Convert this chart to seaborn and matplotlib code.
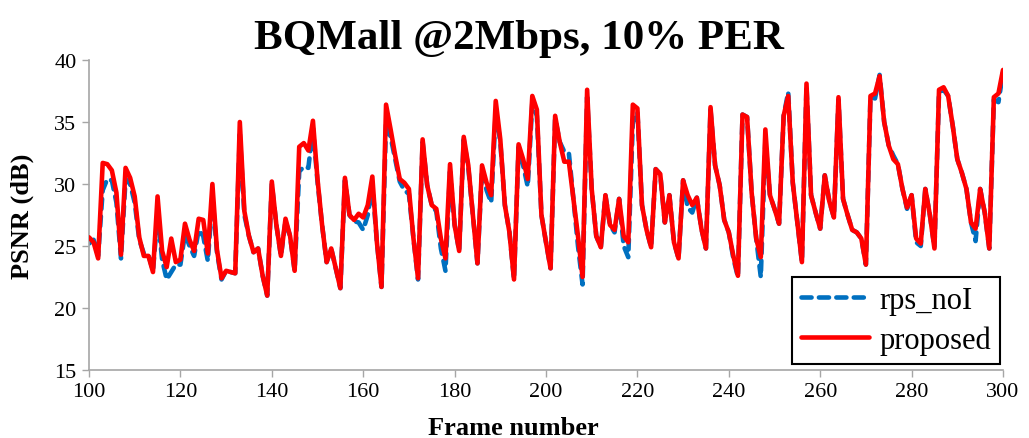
import matplotlib
matplotlib.use("Agg")
import matplotlib.pyplot as plt
from matplotlib.lines import Line2D
import seaborn as sns
import pandas as pd

frames = list(range(100, 301))

proposed = [
    25.7, 25.3, 24.0, 31.7, 31.6, 31.1, 29.3, 24.3, 31.3, 30.5,   # 100-109
    29.0, 25.7, 24.2, 24.2, 22.9, 29.0, 24.6, 23.3, 25.6, 23.7,   # 110-119
    23.9, 26.8, 25.5, 24.6, 27.2, 27.1, 24.4, 30.0, 24.7, 22.4,   # 120-129
    23.0, 22.9, 22.8, 35.0, 27.8, 25.8, 24.5, 24.8, 22.6, 21.0,   # 130-139
    30.2, 26.7, 24.2, 27.2, 25.8, 23.0, 33.0, 33.3, 32.7, 35.1,   # 140-149
    30.4, 26.7, 23.7, 24.8, 23.2, 21.6, 30.5, 27.5, 27.1, 27.6,   # 150-159
    27.3, 28.3, 30.6, 25.3, 21.7, 36.4, 34.4, 32.3, 30.4, 30.1,   # 160-169
    29.6, 25.6, 22.4, 33.6, 29.9, 28.3, 28.0, 25.6, 24.0, 31.6,   # 170-179
    26.7, 24.6, 33.8, 31.5, 27.5, 23.6, 31.5, 30.1, 29.1, 36.7,   # 180-189
    33.6, 28.3, 26.1, 22.3, 33.2, 32.0, 30.4, 37.1, 36.0, 27.5,   # 190-199
    25.3, 23.2, 35.5, 33.4, 31.8, 31.8, 28.8, 25.8, 22.5, 37.6,   # 200-209
    29.6, 25.8, 24.9, 29.1, 26.7, 26.3, 28.8, 25.8, 25.3, 36.4,   # 210-219
    36.1, 28.3, 26.3, 24.9, 31.2, 30.8, 26.9, 29.1, 25.3, 24.0,   # 220-229
    30.3, 29.1, 28.3, 28.9, 26.4, 24.8, 36.2, 31.5, 29.9, 27.1,   # 230-239
    26.1, 24.2, 22.6, 35.6, 35.4, 29.3, 25.6, 24.1, 34.4, 29.1,   # 240-249
    28.0, 26.8, 35.5, 37.1, 30.1, 26.9, 23.7, 38.1, 29.1, 27.7,   # 250-259
    26.4, 30.7, 28.6, 27.3, 37.0, 28.8, 27.5, 26.3, 26.1, 25.6,   # 260-269
    23.5, 37.1, 37.3, 38.7, 35.0, 33.1, 32.0, 31.6, 29.6, 28.1,   # 270-279
    29.1, 25.6, 25.2, 29.6, 27.5, 24.8, 37.6, 37.8, 37.1, 34.7,   # 280-289
    32.0, 30.9, 29.6, 26.9, 26.4, 29.6, 27.7, 24.8, 37.0, 37.3,   # 290-299
    39.2,                                                         # 300
]

rps_noI = [
    25.2, 25.5, 24.2, 29.5, 30.4, 30.3, 28.5, 24.0, 30.4, 30.0,   # 100-109
    28.5, 25.5, 24.4, 24.3, 23.0, 27.5, 23.9, 22.3, 22.9, 23.5,   # 110-119
    23.5, 26.0, 25.0, 24.2, 26.3, 25.8, 23.8, 29.0, 24.5, 22.3,   # 120-129
    23.0, 22.9, 22.8, 34.0, 27.5, 25.8, 24.5, 24.8, 22.6, 21.0,   # 130-139
    30.0, 26.7, 24.2, 27.0, 25.8, 23.0, 31.0, 31.4, 31.3, 34.5,   # 140-149
    30.2, 26.7, 23.7, 24.8, 23.2, 21.6, 30.3, 27.5, 27.0, 26.9,   # 150-159
    26.3, 27.5, 30.0, 25.3, 21.7, 35.0, 33.8, 32.0, 30.2, 29.5,   # 160-169
    29.2, 25.6, 22.3, 33.4, 29.9, 28.3, 27.8, 24.8, 23.0, 31.0,   # 170-179
    26.7, 24.6, 33.6, 31.3, 27.5, 23.6, 31.2, 29.5, 28.5, 35.8,   # 180-189
    33.4, 28.3, 26.1, 22.3, 33.0, 31.5, 29.8, 36.5, 35.5, 27.5,   # 190-199
    25.3, 23.2, 35.3, 33.4, 32.6, 32.5, 28.8, 25.0, 21.9, 37.0,   # 200-209
    29.6, 25.8, 24.9, 29.1, 26.7, 26.1, 28.8, 25.0, 24.1, 35.0,   # 210-219
    35.8, 28.3, 26.3, 24.9, 31.2, 30.8, 26.9, 29.1, 25.3, 24.0,   # 220-229
    30.3, 28.1, 27.7, 28.9, 26.4, 24.8, 36.0, 31.5, 29.9, 27.1,   # 230-239
    26.1, 24.0, 22.5, 35.6, 35.4, 29.3, 25.6, 22.5, 33.5, 29.1,   # 240-249
    28.0, 26.8, 35.5, 37.4, 30.1, 26.9, 23.7, 37.9, 29.1, 27.7,   # 250-259
    26.4, 30.7, 28.6, 27.3, 36.8, 28.8, 27.5, 26.3, 26.1, 25.6,   # 260-269
    23.5, 37.0, 36.9, 38.8, 35.0, 33.1, 32.3, 31.6, 29.6, 28.0,   # 270-279
    29.1, 25.3, 25.0, 29.6, 27.5, 24.9, 37.4, 37.6, 37.1, 34.7,   # 280-289
    32.0, 30.9, 29.6, 26.9, 25.4, 29.6, 27.7, 24.8, 36.8, 36.6,   # 290-299
    39.0,                                                         # 300
]

series_names = ["rps_noI", "proposed"]
series_colors = {"rps_noI": "#0070C0", "proposed": "#FF0000"}
x_ticks = list(range(100, 301, 20))
y_ticks = list(range(15, 41, 5))

df = pd.DataFrame({
    "frame": frames * 2,
    "psnr": rps_noI + proposed,
    "series": ["rps_noI"] * len(frames) + ["proposed"] * len(frames),
})

sns.set_theme(style="white")
plt.rcParams["font.family"] = ["Liberation Serif", "DejaVu Serif"]
plt.rcParams["text.color"] = "black"

W, H = 1029, 439
fig = plt.figure(figsize=(W / 100, H / 100), dpi=100)
ax = fig.add_axes([89 / W, 68 / H, 914 / W, 310 / H])

sns.lineplot(data=df, x="frame", y="psnr", hue="series", hue_order=series_names,
             palette=series_colors, ax=ax, legend=False, estimator=None, sort=False)

lines = ax.get_lines()
lines[0].set_linewidth(3.3)
lines[0].set_dashes((2.2, 1.6))
lines[0].set_dash_capstyle("round")
lines[0].set_zorder(2)
lines[1].set_linewidth(3.3)
lines[1].set_solid_joinstyle("round")
lines[1].set_zorder(3)

ax.set_xlim(100, 300)
ax.set_ylim(15, 40)
ax.set_xticks(x_ticks)
ax.set_yticks(y_ticks)
ax.tick_params(axis="both", labelsize=16, direction="out", length=5, width=1,
               color="#A6A6A6", labelcolor="black", pad=4, bottom=True, left=True)
for side in ["top", "right"]:
    ax.spines[side].set_visible(False)
for side in ["left", "bottom"]:
    ax.spines[side].set_color("#A6A6A6")
    ax.spines[side].set_linewidth(1.2)

ax.set_xlabel("")
ax.set_ylabel("")
fig.text(513 / W, 1 - 435 / H, "Frame number", fontsize=19, fontweight="bold",
         ha="center", va="baseline", color="black")
fig.text(22 / W, 1 - 216 / H, "PSNR (dB)", fontsize=19, fontweight="bold",
         ha="center", va="center", rotation=90, color="black")
fig.text(519 / W, 1 - 49 / H, "BQMall @2Mbps, 10% PER", fontsize=31, fontweight="bold",
         ha="center", va="baseline", color="black")

handles = [
    Line2D([], [], color=series_colors["rps_noI"], lw=3.3, dashes=(2.2, 1.6), dash_capstyle="round"),
    Line2D([], [], color=series_colors["proposed"], lw=3.3),
]
leg = ax.legend(handles, series_names, loc="lower right", bbox_to_anchor=(0.997, 0.019),
                fontsize=22, frameon=True, fancybox=False, framealpha=1,
                edgecolor="black", handlelength=2.2, borderpad=0.3, labelspacing=0.35,
                handletextpad=0.35, borderaxespad=0)
leg.get_frame().set_linewidth(1.5)
for t in leg.get_texts():
    t.set_color("black")

fig.savefig("out.png", dpi=100)
